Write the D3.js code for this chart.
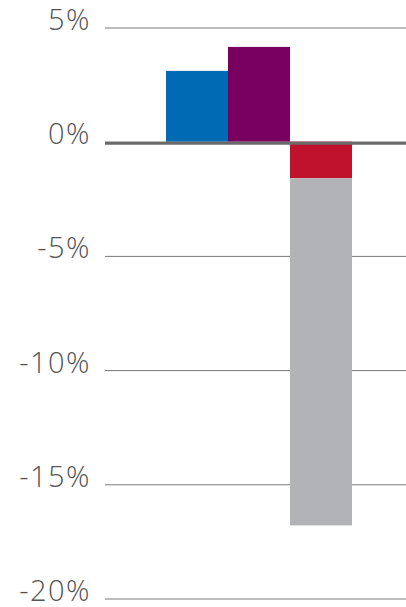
<!DOCTYPE html>
<html>
<head>
<meta charset="utf-8">
<script src="https://cdn.jsdelivr.net/npm/d3@7"></script>
<style>
  body { margin: 0; background: #fff; }
  svg { display: block; }
</style>
</head>
<body>
<div id="chart"></div>
<script>
// data
var categories = ["A", "B", "C"];
var seriesNames = ["first", "second"];
// first segment of each bar, then the stacked second segment
var firstValues = [3.1, 4.15, -1.6];
var secondValues = [0, 0, -15.2];
var firstColors = ["#006BB4", "#7A0060", "#C1122D"];
var secondColor = "#B2B3B6";
var tickValues = [5, 0, -5, -10, -15, -20];

var width = 406, height = 607;

var svg = d3.select("#chart")
    .append("svg")
    .attr("width", width)
    .attr("height", height);

var y = d3.scaleLinear()
    .domain([-20, 5])
    .range([598.5, 27.5]);

var x = d3.scaleBand()
    .domain(categories)
    .range([166, 352])
    .padding(0);

// gridlines + labels
var axis = d3.axisLeft(y)
    .tickValues(tickValues)
    .tickSize(-(width - 105))
    .tickFormat(function(d) { return d + "%"; });

var gAxis = svg.append("g")
    .attr("transform", "translate(105,0)")
    .call(axis);

gAxis.select(".domain").remove();
gAxis.selectAll(".tick line")
    .attr("stroke", "#7a7a7a")
    .attr("stroke-width", 1);
gAxis.selectAll(".tick text")
    .attr("x", -14)
    .attr("dy", "0.07em")
    .style("font-family", "'Open Sans', Lato, sans-serif")
    .style("font-weight", 300)
    .style("font-size", "29px")
    .style("letter-spacing", "1.5px")
    .attr("fill", "#555");

// stacked bars
var rows = categories.map(function(c, i) {
    return { cat: c, first: firstValues[i], second: secondValues[i], color: firstColors[i] };
});

var stack = d3.stack()
    .keys(seriesNames)
    .value(function(d, key) { return d[key]; })
    .offset(d3.stackOffsetDiverging);

var layers = stack(rows);

svg.append("g").selectAll("g")
    .data(layers)
    .enter()
    .append("g")
    .selectAll("rect")
    .data(function(layer) { return layer.map(function(s) { s.key = layer.key; return s; }); })
    .enter()
    .append("rect")
    .attr("x", function(d) { return x(d.data.cat); })
    .attr("width", x.bandwidth())
    .attr("y", function(d) { return y(Math.max(d[0], d[1])); })
    .attr("height", function(d) { return Math.abs(y(d[0]) - y(d[1])); })
    .attr("fill", function(d) { return d.key === "first" ? d.data.color : secondColor; });

// zero line
svg.append("line")
    .attr("x1", 105)
    .attr("x2", width)
    .attr("y1", y(0) + 1.5)
    .attr("y2", y(0) + 1.5)
    .attr("stroke", "#6a6a6a")
    .attr("stroke-width", 3);
</script>
</body>
</html>
